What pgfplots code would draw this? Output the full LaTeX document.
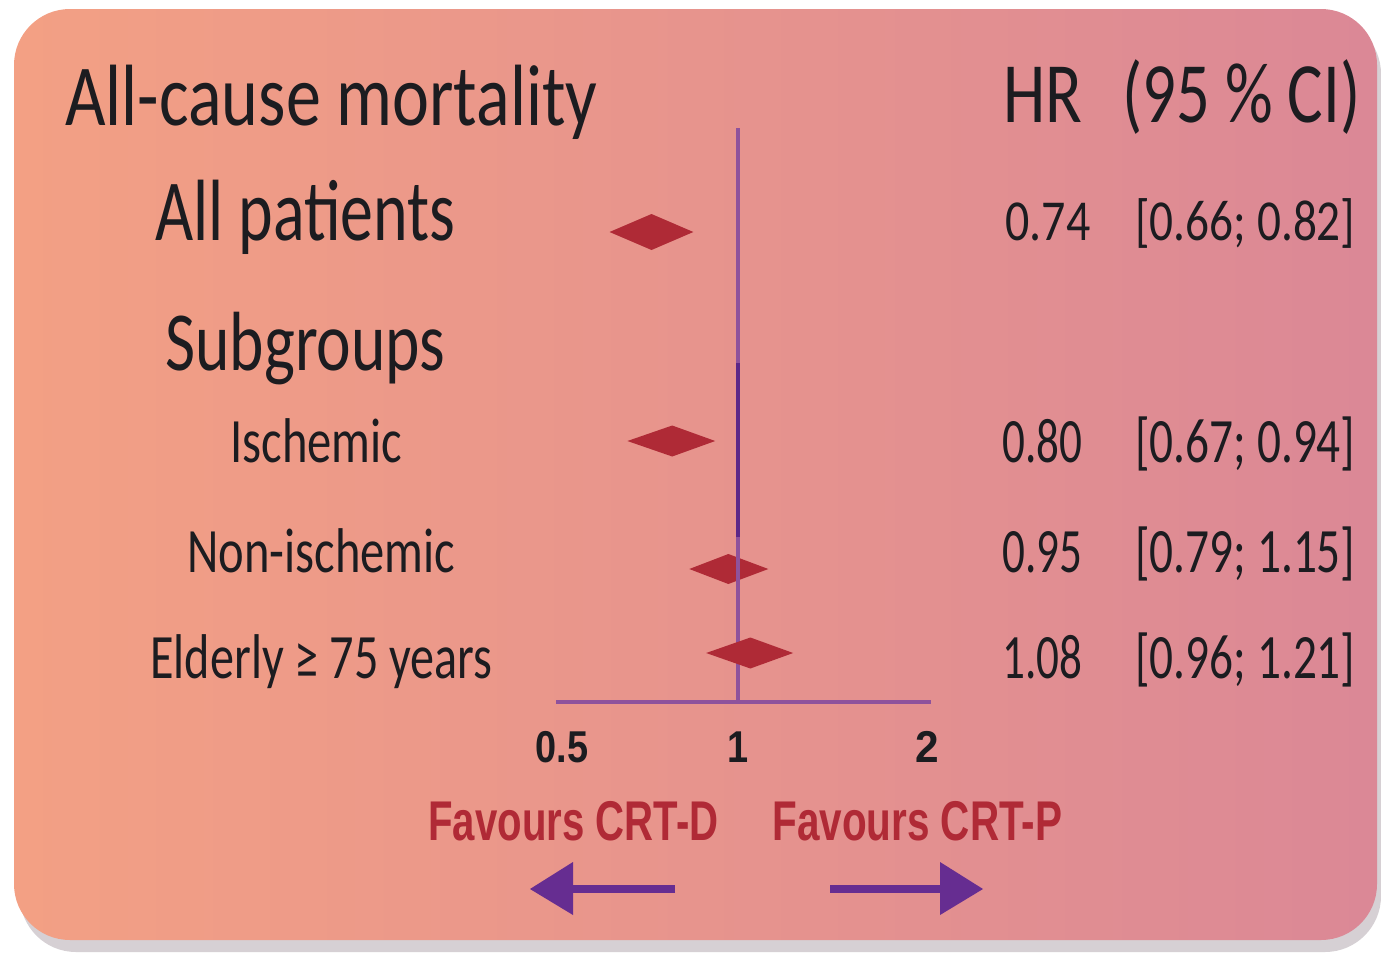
\documentclass[border=0pt]{standalone}
\usepackage{fontspec}
\setmainfont{Carlito}
\newfontfamily\arial{Liberation Sans}
\usepackage{graphicx}
\usepackage{pgfplots}
\pgfplotsset{compat=1.18}
\definecolor{bgL}{RGB}{243,160,132}
\definecolor{bgR}{RGB}{219,136,150}
\definecolor{shadowc}{RGB}{214,208,212}
\definecolor{dred}{RGB}{175,42,54}
\definecolor{lpurple}{RGB}{142,82,156}
\definecolor{dpurple}{RGB}{92,40,136}
\definecolor{apurple}{RGB}{102,45,145}
\definecolor{txtc}{RGB}{28,28,32}
\definecolor{fred}{RGB}{176,42,54}
\newcommand{\txt}[4]{\node[anchor=base west, inner sep=0pt, text=txtc] at (#1) {\resizebox{#2}{\height}{\fontsize{#3}{#3}\selectfont #4}};}
\newcommand{\fav}[3]{\node[anchor=base west, inner sep=0pt, text=fred] at (#1) {\resizebox{#2}{\height}{\arial\bfseries\fontsize{28}{28}\selectfont #3}};}
\begin{document}
\begin{tikzpicture}
\begin{scope}[x=0.5pt,y=-0.5pt]
\useasboundingbox (0,0) rectangle (1381,953);
\fill[white] (0,0) rectangle (1381,953);
\fill[shadowc, rounded corners=28pt] (20,18) rectangle (1381,952);
\shade[left color=bgL, right color=bgR, rounded corners=28pt] (14,9) rectangle (1377,940);
\end{scope}
\begin{axis}[at={(278pt,-351pt)}, anchor=south west, scale only axis,
  width=187.5pt, height=287pt, xmode=log, xmin=0.5, xmax=2.081,
  ymin=251, ymax=825, axis x line*=bottom, axis y line=none,
  x axis line style={lpurple, line width=1.6pt},
  xtick={0.5,1,2},
  xticklabels={{\hspace{6pt}\scalebox{0.85}[1]{0.5}},\scalebox{0.85}[1]{1},{\hspace{7pt}\scalebox{0.95}[1]{2}}},
  major tick length=0pt, minor tick length=0pt, minor xtick={},
  xticklabel style={anchor=base, yshift=-30pt, text=txtc,
    font=\arial\bfseries\fontsize{22.3}{22.3}\selectfont},
  clip=false]
% diamonds: (lower, y) (HR, y+h) (upper, y) (HR, y-h)
\addplot[fill=dred, draw=none] coordinates {(0.613,721) (0.719,739) (0.843,721) (0.719,703)};
\addplot[fill=dred, draw=none] coordinates {(0.656,512) (0.778,527.5) (0.916,512) (0.778,496.5)};
\addplot[fill=dred, draw=none] coordinates {(0.830,384) (0.963,399) (1.121,384) (0.963,369)};
% line of no effect
\addplot[lpurple, line width=2pt] coordinates {(1,251) (1,825)};
\addplot[dpurple, line width=2pt] coordinates {(1,416) (1,590)};
\addplot[fill=dred, draw=none] coordinates {(0.885,300) (1.047,315.5) (1.232,300) (1.047,284.5)};
\end{axis}
\begin{scope}[x=0.5pt,y=-0.5pt]
\txt{65,125}{266pt}{43.5}{All-cause mortality}
\txt{1003,122}{39.5pt}{43}{HR}
\txt{1122,122}{119pt}{43}{(95 \% CI)}
\txt{155,240}{150pt}{43.5}{All patients}
\txt{165,370}{140pt}{42}{Subgroups}
\txt{230,462}{86pt}{31.6}{Ischemic}
\txt{187,572}{134pt}{31.6}{Non-ischemic}
\txt{150,678}{171pt}{31.6}{Elderly ≥ 75 years}
\txt{1005,240}{42.5pt}{29}{0.74}
\txt{1135,240}{110pt}{29}{[0.66; 0.82]}
\txt{1002,462}{40pt}{31.6}{0.80}
\txt{1135,462}{110pt}{31.6}{[0.67; 0.94]}
\txt{1002,572}{40pt}{31.6}{0.95}
\txt{1135,572}{110pt}{31.6}{[0.79; 1.15]}
\txt{1002,678}{40pt}{31.6}{1.08}
\txt{1135,678}{110pt}{31.6}{[0.96; 1.21]}
\fav{428,840}{145pt}{Favours CRT-D}
\fav{772,840}{145pt}{Favours CRT-P}
% direction arrows
\draw[apurple, line width=4pt] (675,889) -- (570,889);
\fill[apurple] (530,889) -- (573,862) -- (573,915) -- cycle;
\draw[apurple, line width=4pt] (830,889) -- (943,889);
\fill[apurple] (983,889) -- (940,862) -- (940,915) -- cycle;
\end{scope}
\end{tikzpicture}
\end{document}
